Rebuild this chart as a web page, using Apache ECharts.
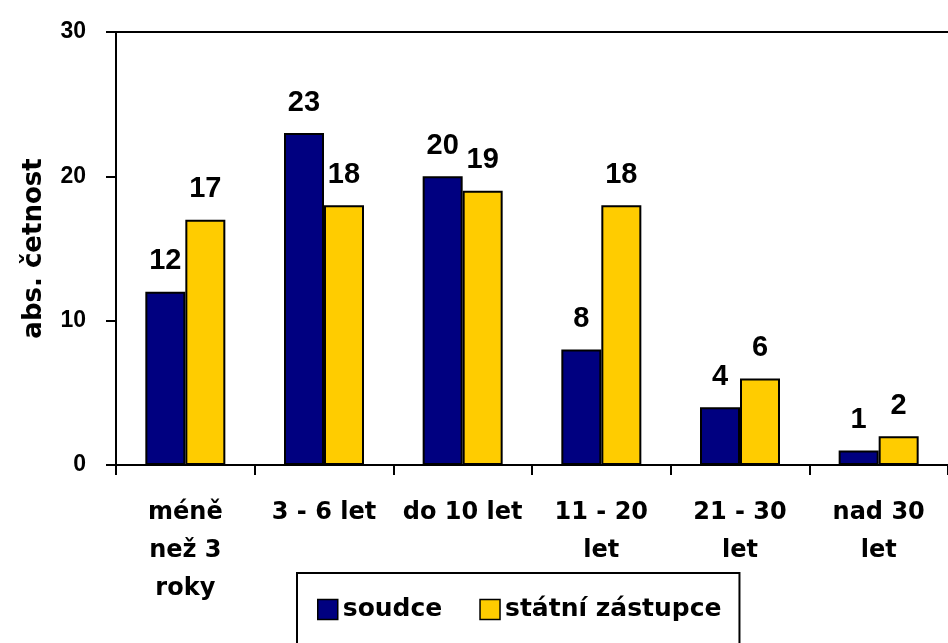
<!DOCTYPE html>
<html>
<head>
<meta charset="utf-8">
<script src="https://cdn.jsdelivr.net/npm/echarts@6/dist/echarts.min.js"></script>
<style>
  html, body { margin: 0; padding: 0; background: #fff; }
  #chart { width: 948px; height: 643px; }
</style>
</head>
<body>
<div id="chart"></div>
<script>
// kategorie (zalomení řádků jako v původním grafu)
const categories = ['méně\nnež 3\nroky', '3 - 6 let', 'do 10 let', '11 - 20\nlet', '21 - 30\nlet', 'nad 30\nlet'];
const soudce = [12, 23, 20, 8, 4, 1];
const statniZastupce = [17, 18, 19, 18, 6, 2];
const yTicks = { min: 0, max: 30, interval: 10 };

const FONT = '"Liberation Sans", Arial, sans-serif';
// širší písmo pro popisky kategorií, legendu a název osy
const WIDE = '"DejaVu Sans", sans-serif';

const chart = echarts.init(document.getElementById('chart'));

const labelStyle = {
  show: true,
  position: 'top',
  distance: 16,
  color: '#000',
  fontFamily: FONT,
  fontWeight: 'bold',
  fontSize: 29,
};

chart.setOption({
  backgroundColor: '#fff',
  animation: false,
  grid: { left: 116, right: -12, top: 32, bottom: 178, containLabel: false },
  legend: {
    data: ['soudce', 'státní zástupce'],
    left: 297,
    top: 573,
    orient: 'horizontal',
    icon: 'rect',
    itemWidth: 20,
    itemHeight: 20,
    itemGap: 37,
    padding: [24, 18, 40, 20],
    borderColor: '#000',
    borderWidth: 2,
    itemStyle: { borderColor: '#000', borderWidth: 1.5 },
    textStyle: { color: '#000', fontFamily: WIDE, fontWeight: 'bold', fontSize: 25 },
  },
  xAxis: {
    type: 'category',
    data: categories,
    axisLine: { lineStyle: { color: '#000', width: 2 } },
    axisTick: { show: true, length: 10, lineStyle: { color: '#000', width: 2 } },
    axisLabel: {
      color: '#000',
      fontFamily: WIDE,
      fontWeight: 'bold',
      fontSize: 24,
      lineHeight: 38,
      margin: 29,
      interval: 0,
    },
  },
  yAxis: {
    type: 'value',
    min: yTicks.min,
    max: yTicks.max,
    interval: yTicks.interval,
    name: 'abs. četnost',
    nameLocation: 'middle',
    nameGap: 69,
    nameTextStyle: { color: '#000', fontFamily: WIDE, fontWeight: 'bold', fontSize: 26 },
    axisLine: { show: true, lineStyle: { color: '#000', width: 2 } },
    axisTick: { show: true, length: 10, lineStyle: { color: '#000', width: 2 } },
    axisLabel: { color: '#000', fontFamily: FONT, fontWeight: 'bold', fontSize: 23, margin: 30 },
    splitLine: {
      show: true,
      // jen horní čára na 30
      lineStyle: { color: ['transparent', 'transparent', 'transparent', '#000'], width: 2 },
    },
  },
  series: [
    {
      name: 'soudce',
      type: 'bar',
      data: soudce,
      barWidth: 40,
      barGap: '0%',
      itemStyle: { color: '#000080', borderColor: '#000', borderWidth: 2 },
      label: labelStyle,
    },
    {
      name: 'státní zástupce',
      type: 'bar',
      data: statniZastupce,
      barWidth: 40,
      barGap: '0%',
      itemStyle: { color: '#FFCC00', borderColor: '#000', borderWidth: 2 },
      label: labelStyle,
    },
  ],
});
</script>
</body>
</html>
